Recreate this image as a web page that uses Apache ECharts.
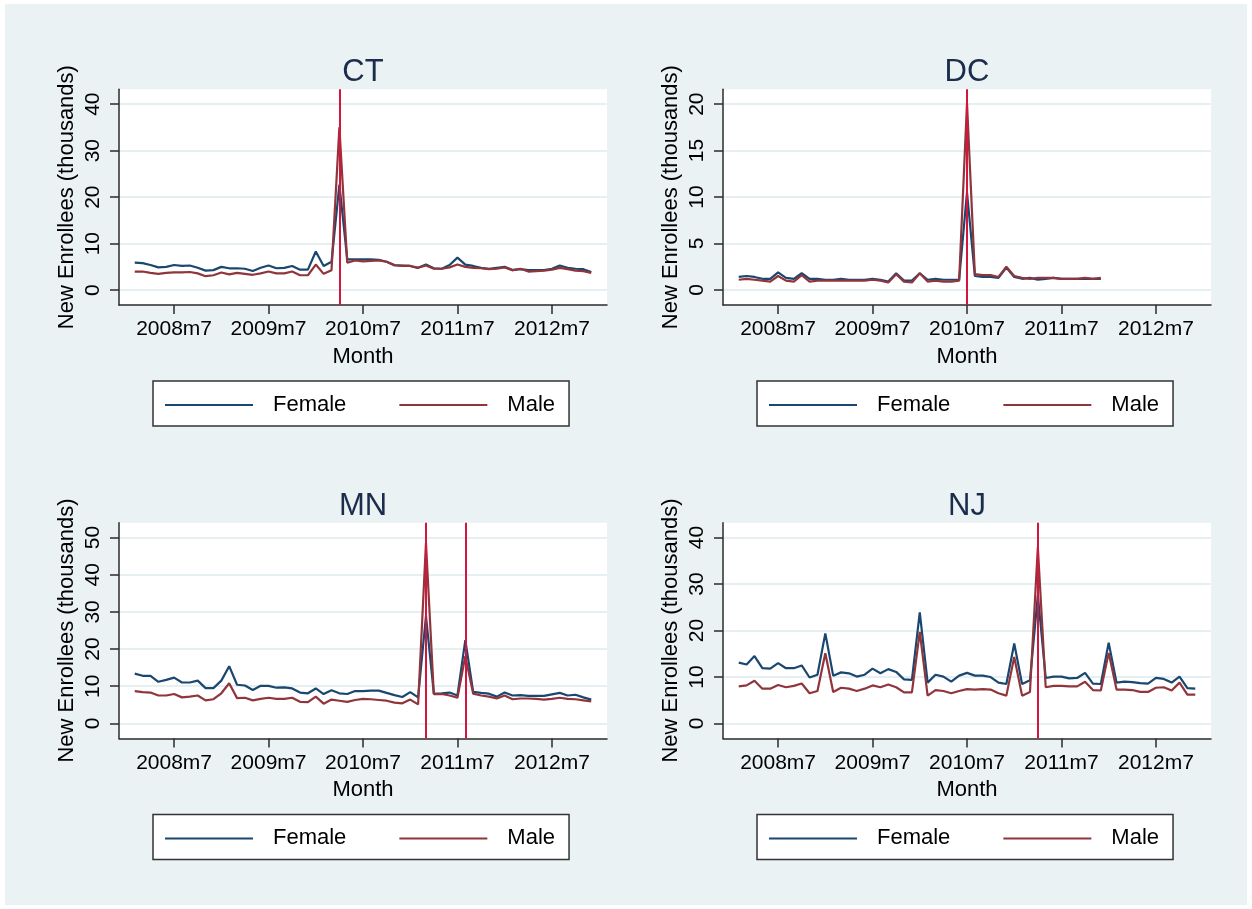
<!DOCTYPE html>
<html>
<head>
<meta charset="utf-8">
<script src="https://cdn.jsdelivr.net/npm/echarts@6/dist/echarts.min.js"></script>
<style>
  body { margin: 0; background: #fff; }
  #wrap { position: relative; width: 1252px; height: 909px; background: #fff; }
  #bg { position: absolute; left: 5px; top: 4px; width: 1242px; height: 901px; background: #eaf2f3; }
  #main { position: absolute; left: 0; top: 0; width: 1252px; height: 909px; }
</style>
</head>
<body>
<div id="wrap">
  <div id="bg"></div>
  <div id="main"></div>
</div>
<script>
// months counted from 2008m2 (index 0)
const firstYear = 2008;
const firstMonth = 2;
const tickLabels = ['2008m7', '2009m7', '2010m7', '2011m7', '2012m7'];

const ctFemale = [5.9, 5.8, 5.4, 4.9, 5.0, 5.4, 5.2, 5.3, 4.8, 4.2, 4.3, 5.0, 4.7, 4.7, 4.6, 4.1, 4.8, 5.3, 4.7, 4.8,
  5.2, 4.4, 4.4, 8.3, 5.2, 6.1, 22.7, 6.6, 6.6, 6.6, 6.6, 6.5, 6.1, 5.4, 5.3, 5.2, 4.8, 5.5, 4.7, 4.6,
  5.4, 7.0, 5.5, 5.2, 4.8, 4.6, 4.8, 5.0, 4.3, 4.5, 4.3, 4.3, 4.3, 4.6, 5.3, 4.8, 4.6, 4.5, 3.9];
const ctMale = [4.0, 4.0, 3.7, 3.5, 3.7, 3.8, 3.8, 3.9, 3.6, 3.0, 3.2, 3.8, 3.4, 3.7, 3.5, 3.3, 3.6, 4.0, 3.6, 3.6,
  4.0, 3.2, 3.2, 5.5, 3.5, 4.3, 35.0, 5.9, 6.4, 6.2, 6.3, 6.4, 6.1, 5.3, 5.2, 5.2, 4.8, 5.3, 4.6, 4.6,
  4.9, 5.5, 5.0, 4.8, 4.7, 4.5, 4.6, 4.9, 4.3, 4.6, 4.0, 4.1, 4.2, 4.4, 4.8, 4.5, 4.2, 4.1, 3.7];

const dcFemale = [1.4, 1.5, 1.4, 1.2, 1.2, 1.9, 1.3, 1.2, 1.8, 1.2, 1.2, 1.1, 1.1, 1.2, 1.1, 1.1, 1.1, 1.2, 1.1, 0.9,
  1.8, 1.0, 1.0, 1.8, 1.1, 1.2, 1.1, 1.1, 1.1, 10.5, 1.5, 1.4, 1.4, 1.3, 2.4, 1.4, 1.2, 1.3, 1.1, 1.2,
  1.3, 1.2, 1.2, 1.2, 1.2, 1.2, 1.2];
const dcMale = [1.1, 1.2, 1.1, 1.0, 0.9, 1.5, 1.0, 0.9, 1.6, 0.9, 1.0, 1.0, 1.0, 1.0, 1.0, 1.0, 1.0, 1.1, 1.0, 0.8,
  1.7, 0.9, 0.8, 1.8, 0.9, 1.0, 0.9, 0.9, 1.0, 20.1, 1.7, 1.6, 1.6, 1.4, 2.5, 1.5, 1.3, 1.2, 1.3, 1.3,
  1.3, 1.2, 1.2, 1.2, 1.3, 1.2, 1.3];

const mnFemale = [13.4, 12.8, 12.8, 11.2, 11.7, 12.3, 11.0, 11.0, 11.5, 9.5, 9.5, 11.5, 15.4, 10.4, 10.2, 9.0, 10.1, 10.1, 9.6, 9.7,
  9.4, 8.3, 8.1, 9.4, 7.9, 8.9, 8.1, 7.9, 8.7, 8.7, 8.8, 8.8, 8.2, 7.6, 7.1, 8.4, 7.0, 28.9, 8.0, 8.1,
  8.3, 7.5, 22.4, 8.5, 8.2, 8.0, 7.2, 8.3, 7.5, 7.6, 7.4, 7.4, 7.4, 7.8, 8.2, 7.5, 7.7, 7.0, 6.4];
const mnMale = [8.7, 8.4, 8.3, 7.5, 7.5, 7.9, 7.0, 7.2, 7.5, 6.2, 6.5, 8.1, 10.8, 6.8, 6.9, 6.2, 6.6, 6.9, 6.6, 6.6,
  6.9, 5.8, 5.7, 7.2, 5.3, 6.4, 6.1, 5.8, 6.3, 6.6, 6.5, 6.3, 6.1, 5.6, 5.4, 6.4, 5.1, 48.5, 7.9, 7.9,
  7.5, 6.9, 18.1, 8.0, 7.5, 7.2, 6.7, 7.5, 6.5, 6.7, 6.7, 6.6, 6.4, 6.6, 6.9, 6.6, 6.5, 6.2, 5.9];

const njFemale = [13.1, 12.7, 14.5, 11.9, 11.8, 13.0, 11.9, 11.9, 12.5, 9.9, 10.5, 19.4, 10.3, 11.0, 10.8, 10.1, 10.5, 11.8, 10.8, 11.7,
  11.1, 9.5, 9.4, 23.9, 8.8, 10.5, 10.1, 9.0, 10.3, 10.9, 10.3, 10.3, 10.0, 8.8, 8.5, 17.2, 8.5, 9.3, 27.6, 9.8,
  10.1, 10.1, 9.7, 9.8, 10.9, 8.6, 8.5, 17.4, 8.8, 9.0, 8.9, 8.7, 8.6, 9.8, 9.6, 8.8, 10.1, 7.6, 7.5];
const njMale = [8.0, 8.2, 9.2, 7.5, 7.5, 8.3, 7.8, 8.1, 8.6, 6.5, 7.0, 15.1, 6.8, 7.7, 7.5, 7.0, 7.5, 8.2, 7.8, 8.4,
  7.8, 6.7, 6.7, 19.7, 6.0, 7.2, 7.0, 6.5, 7.0, 7.4, 7.3, 7.4, 7.3, 6.5, 6.0, 14.3, 6.0, 6.8, 37.9, 7.8,
  8.1, 8.1, 8.0, 8.0, 9.0, 7.2, 7.1, 15.2, 7.3, 7.3, 7.2, 6.8, 6.8, 7.7, 7.8, 7.1, 8.8, 6.2, 6.2];

// vertical reference lines
const ctLines = ['2010m4'];
const dcLines = ['2010m7'];
const mnLines = ['2011m3', '2011m8'];
const njLines = ['2011m4'];

const ctTicks = [0, 10, 20, 30, 40];
const dcTicks = [0, 5, 10, 15, 20];
const mnTicks = [0, 10, 20, 30, 40, 50];
const njTicks = [0, 10, 20, 30, 40];

function monthIndex(label) {
  const parts = label.split('m').map(Number);
  return (parts[0] - firstYear) * 12 + (parts[1] - firstMonth);
}
const tickPos = tickLabels.map(monthIndex);

const NAVY = '#1a476f';
const MAROON = '#90353b';
const RED = '#d3163d';
const FONT = '"Liberation Sans", Arial, Helvetica, sans-serif';

const panels = [
  { title: 'CT', female: ctFemale, male: ctMale, lines: ctLines, ticks: ctTicks, min: -3.2, max: 43.2, left: 119, top: 89.3 },
  { title: 'DC', female: dcFemale, male: dcMale, lines: dcLines, ticks: dcTicks, min: -1.62, max: 21.6, left: 723, top: 89.3 },
  { title: 'MN', female: mnFemale, male: mnMale, lines: mnLines, ticks: mnTicks, min: -4.04, max: 54.0, left: 119, top: 522.7 },
  { title: 'NJ', female: njFemale, male: njMale, lines: njLines, ticks: njTicks, min: -3.2, max: 43.2, left: 723, top: 522.7 }
];

const gridW = 488, gridH = 215.7;
const axisColor = '#2b2b2b';

const option = {
  animation: false,
  textStyle: { fontFamily: FONT },
  title: [], grid: [], xAxis: [], yAxis: [], legend: [], series: []
};

panels.forEach(function (p, i) {
  option.title.push({
    text: p.title,
    left: p.left + gridW / 2,
    top: p.top - 32,
    textAlign: 'center',
    padding: 0,
    textStyle: { fontSize: 31, fontWeight: 'normal', color: '#1c2c4c', fontFamily: FONT }
  });
  option.grid.push({
    left: p.left, top: p.top, width: gridW, height: gridH,
    show: true, backgroundColor: '#fff', borderWidth: 0,
    containLabel: false, outerBoundsMode: 'none'
  });
  option.xAxis.push({
    type: 'value', gridIndex: i, min: -2, max: 60,
    name: 'Month', nameLocation: 'middle', nameGap: 41,
    nameTextStyle: { fontSize: 22, color: '#000', fontFamily: FONT },
    axisLine: { show: true, onZero: false, lineStyle: { color: axisColor, width: 1.5 } },
    axisTick: { show: true, length: 9, customValues: tickPos, lineStyle: { color: axisColor, width: 1.5 } },
    axisLabel: {
      customValues: tickPos, margin: 14, fontSize: 21, color: '#000', fontFamily: FONT,
      formatter: function (v) { return tickLabels[tickPos.indexOf(v)]; }
    },
    splitLine: { show: false }
  });
  option.yAxis.push({
    type: 'value', gridIndex: i, min: p.min, max: p.max,
    name: 'New Enrollees (thousands)', nameLocation: 'middle', nameGap: 41, nameRotate: 90,
    nameTextStyle: { fontSize: 22, color: '#000', fontFamily: FONT },
    axisLine: { show: true, onZero: false, lineStyle: { color: axisColor, width: 1.5 } },
    axisTick: { show: true, length: 9, customValues: p.ticks, lineStyle: { color: axisColor, width: 1.5 } },
    axisLabel: { customValues: p.ticks, rotate: 90, margin: 15, fontSize: 21, color: '#000', fontFamily: FONT },
    splitLine: { show: true, lineStyle: { color: '#e6eff2', width: 2 } }
  });
  option.legend.push({
    left: p.left + 34, top: p.top + 291.7,
    orient: 'horizontal',
    data: ['Female', 'Male'],
    icon: 'rect', itemWidth: 88, itemHeight: 2, itemGap: 53,
    padding: [13, 14, 10, 12],
    backgroundColor: '#fff', borderColor: '#333', borderWidth: 1.5, borderRadius: 0,
    selectedMode: false,
    textStyle: { fontSize: 22, color: '#000', fontFamily: FONT, padding: [0, 0, 0, 15] }
  });
  option.series.push({
    type: 'line', name: 'xline', xAxisIndex: i, yAxisIndex: i, data: [], z: 1,
    silent: true,
    markLine: {
      silent: true, symbol: ['none', 'none'], animation: false,
      label: { show: false },
      lineStyle: { color: RED, width: 2, type: 'solid' },
      emphasis: { disabled: true },
      data: p.lines.map(function (l) { return { xAxis: monthIndex(l) }; })
    }
  });
  option.series.push({
    type: 'line', name: 'Female', xAxisIndex: i, yAxisIndex: i, z: 2,
    data: p.female.map(function (v, t) { return [t, v]; }),
    showSymbol: false, symbol: 'none',
    lineStyle: { color: NAVY, width: 2.2 }, itemStyle: { color: NAVY }
  });
  option.series.push({
    type: 'line', name: 'Male', xAxisIndex: i, yAxisIndex: i, z: 3,
    data: p.male.map(function (v, t) { return [t, v]; }),
    showSymbol: false, symbol: 'none',
    lineStyle: { color: MAROON, width: 2.2 }, itemStyle: { color: MAROON }
  });
});

const myChart = echarts.init(document.getElementById('main'));
myChart.setOption(option);
</script>
</body>
</html>
